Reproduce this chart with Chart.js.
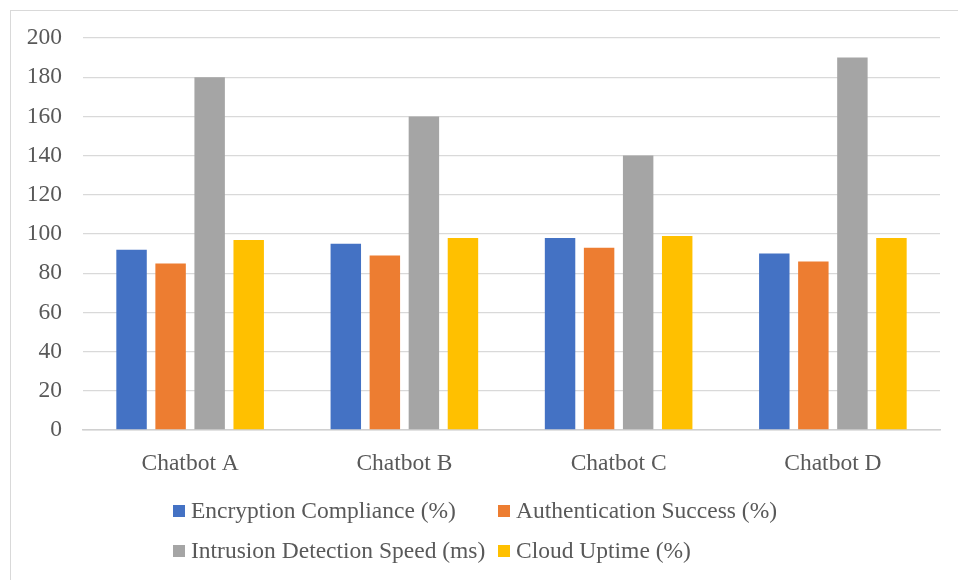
<!DOCTYPE html>
<html>
<head>
<meta charset="utf-8">
<script src="https://cdn.jsdelivr.net/npm/chart.js@4/dist/chart.umd.min.js"></script>
<style>
  html, body { margin: 0; padding: 0; background: #fff; }
  #wrap { position: relative; width: 958px; height: 580px; }
</style>
</head>
<body>
<div id="wrap"><canvas id="c" width="958" height="580"></canvas></div>
<script>
const categories = ['Chatbot A', 'Chatbot B', 'Chatbot C', 'Chatbot D'];
const encryptionCompliance = [92, 95, 98, 90];
const authenticationSuccess = [85, 89, 93, 86];
const intrusionDetectionSpeed = [180, 160, 140, 190];
const cloudUptime = [97, 98, 99, 98];
const seriesNames = [
  'Encryption Compliance (%)',
  'Authentication Success (%)',
  'Intrusion Detection Speed (ms)',
  'Cloud Uptime (%)'
];
const seriesColors = ['#4472C4', '#ED7D31', '#A5A5A5', '#FFC000'];

const FONT = '"Liberation Serif", "Times New Roman", serif';
const TEXT = '#595959';

// Outer frame of the chart object
const framePlugin = {
  id: 'frame',
  afterDraw(chart) {
    const ctx = chart.ctx;
    ctx.save();
    ctx.strokeStyle = '#d9d9d9';
    ctx.lineWidth = 1;
    ctx.strokeRect(10.5, 10.5, 1000, 1000);
    ctx.restore();
  }
};

// Two-column legend below the plot
const gridLegend = {
  id: 'gridLegend',
  afterDraw(chart) {
    const ctx = chart.ctx;
    const cols = [173, 498];
    const rows = [511, 551];
    ctx.save();
    ctx.font = '23.5px ' + FONT;
    ctx.textBaseline = 'middle';
    ctx.textAlign = 'left';
    chart.data.datasets.forEach((ds, i) => {
      const x = cols[i % 2];
      const y = rows[Math.floor(i / 2)];
      ctx.fillStyle = ds.backgroundColor;
      ctx.fillRect(x, y - 6, 12, 12);
      ctx.fillStyle = TEXT;
      ctx.fillText(ds.label, x + 18, y + 1);
    });
    ctx.restore();
  }
};

const values = [encryptionCompliance, authenticationSuccess, intrusionDetectionSpeed, cloudUptime];

new Chart(document.getElementById('c'), {
  type: 'bar',
  data: {
    labels: categories,
    datasets: values.map((v, i) => ({
      label: seriesNames[i],
      data: v,
      backgroundColor: seriesColors[i],
      categoryPercentage: 0.729,
      barPercentage: 0.78
    }))
  },
  options: {
    responsive: false,
    animation: false,
    devicePixelRatio: 1,
    layout: { padding: { left: 0, right: 18, top: 38, bottom: 110 } },
    plugins: {
      legend: { display: false },
      tooltip: { enabled: false }
    },
    scales: {
      x: {
        grid: { display: false },
        border: { color: '#d0d0d0', width: 1.5 },
        ticks: { color: TEXT, font: { family: FONT, size: 23.5 }, padding: 12 },
        afterFit(s) { s.height = 40; }
      },
      y: {
        min: 0,
        max: 200,
        ticks: { stepSize: 20, color: TEXT, font: { family: FONT, size: 23.5 }, padding: 21 },
        grid: { color: '#d9d9d9', lineWidth: 1.3, drawTicks: false },
        border: { display: false },
        afterFit(s) { s.width = 83; }
      }
    }
  },
  plugins: [framePlugin, gridLegend]
});
</script>
</body>
</html>
